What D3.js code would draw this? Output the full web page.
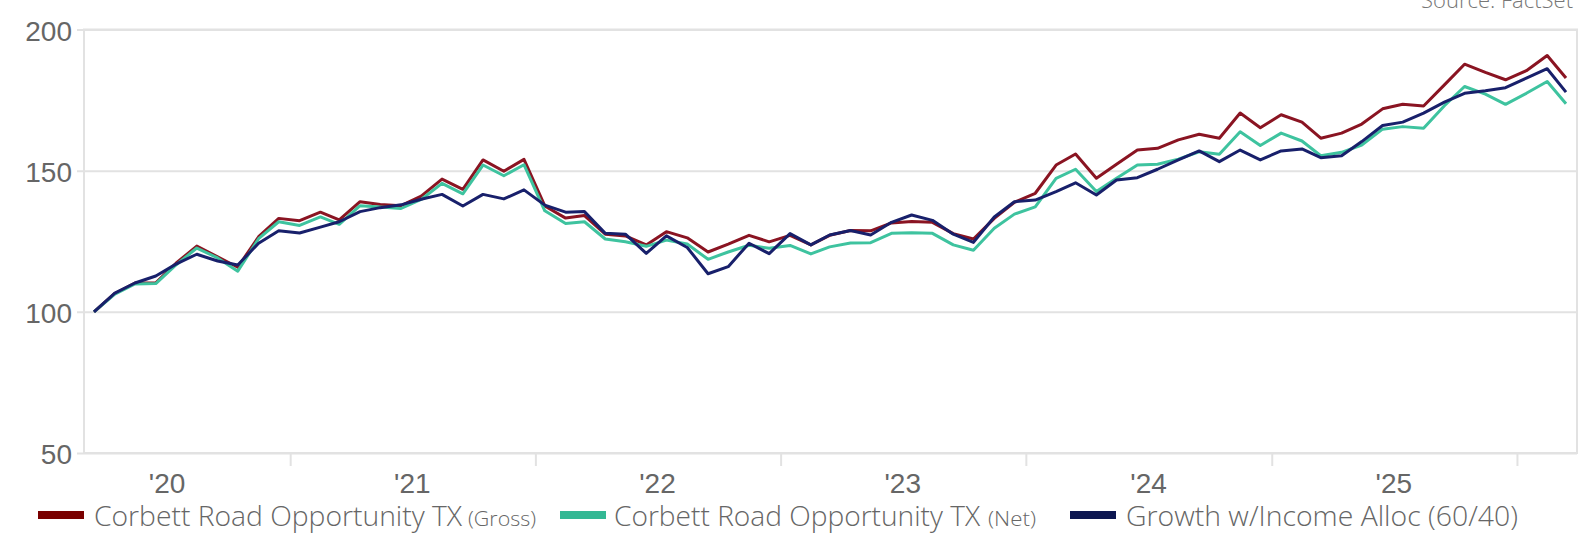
<!DOCTYPE html>
<html><head><meta charset="utf-8">
<script src="https://cdn.jsdelivr.net/npm/d3@7"></script>
<style>html,body{margin:0;padding:0;background:#fff;overflow:hidden}</style>
</head><body>
<svg id="chart" width="1584" height="533"></svg>
<script>
// ---- data (monthly, first point March 2020) ----
const firstYear = 2020, firstMonthIndex = 2;
const seriesNames = ["Corbett Road Opportunity TX (Gross)", "Corbett Road Opportunity TX (Net)", "Growth w/Income Alloc (60/40)"];
const gross = [100,106.5,110.2,110.3,117.2,123.3,119.5,115.8,126.6,133.1,132.3,135.3,132.6,139.0,138.0,137.6,141.0,147.0,143.4,153.8,149.8,154.0,137.5,133.2,134.1,127.5,126.9,123.7,128.4,126.2,121.2,124.0,127.1,124.8,127.1,123.7,127.1,128.8,128.7,131.5,132.0,131.7,127.7,125.8,133.1,138.8,142.0,152.0,155.9,147.3,152.3,157.3,157.9,160.9,162.9,161.5,170.4,165.2,169.8,167.2,161.5,163.3,166.5,171.9,173.5,172.9,180.4,187.7,184.8,182.2,185.4,190.8,182.8];
const net = [100,106.3,109.9,110.0,116.6,122.6,119.1,114.4,125.9,131.9,130.6,133.6,131.0,137.6,137.1,136.6,139.8,145.5,141.8,152.0,148.2,152.1,135.8,131.3,131.9,125.8,124.8,123.2,125.4,124.0,118.6,121.2,123.6,122.5,123.5,120.5,123.0,124.4,124.5,127.8,128.0,127.8,123.7,121.8,129.6,134.6,137.2,147.3,150.5,142.6,147.3,152.0,152.3,154.1,156.7,155.8,163.8,158.9,163.3,160.5,155.3,156.5,159.1,164.7,165.6,165.0,173.0,179.8,177.1,173.5,177.4,181.6,173.7];
const blended = [100,106.6,110.2,112.7,116.9,120.4,118.0,116.6,124.3,128.7,127.9,130.0,131.9,135.5,136.9,137.9,139.9,141.6,137.5,141.6,140.0,143.2,137.8,135.3,135.5,127.8,127.5,120.7,126.9,122.8,113.5,116.0,124.3,120.6,127.7,123.7,127.2,128.8,127.2,131.7,134.3,132.4,127.5,124.6,133.6,139.0,139.6,142.6,145.7,141.4,146.7,147.5,150.5,153.8,157.0,153.2,157.3,153.8,157.0,157.7,154.6,155.3,160.3,166.0,167.2,170.4,174.3,177.4,178.3,179.4,182.8,186.1,177.8];
const yTicks = [50, 100, 150, 200];
const yearLabels = ["'20", "'21", "'22", "'23", "'24", "'25"];
const legendMain = ["Corbett Road Opportunity TX", "Corbett Road Opportunity TX", "Growth w/Income Alloc (60/40)"];
const legendSub = ["(Gross)", "(Net)", ""];
const sourceText = "Source: FactSet";

// ---- styles ----
const lineColors = ["#8a1422", "#3ec39f", "#18206b"];
const swatchColors = ["#7a0000", "#33b894", "#0c1650"];
const gridColor = "#e2e2e2";

const svg = d3.select("#chart");
const plot = {left: 84, right: 1577, top: 29.5, bottom: 453};

const dates = gross.map((d, i) => new Date(firstYear, firstMonthIndex + i, 15));
const x = d3.scaleTime().domain([dates[0], dates[dates.length - 1]]).range([94, 1566]);
const y = d3.scaleLinear().domain([50, 200]).range([plot.bottom, plot.top]);

// gridlines (with small outer tick on the left)
svg.append("g")
  .attr("transform", `translate(${plot.right},0)`)
  .call(d3.axisLeft(y).tickValues(yTicks).tickSize(plot.right - 77).tickFormat(""))
  .call(g => g.select(".domain").remove())
  .call(g => g.selectAll("line").attr("stroke", gridColor).attr("stroke-width", 2));

// frame
svg.append("rect")
  .attr("x", plot.left).attr("y", plot.top)
  .attr("width", plot.right - plot.left).attr("height", plot.bottom - plot.top)
  .attr("fill", "none").attr("stroke", gridColor).attr("stroke-width", 2);

// y labels
svg.append("g")
  .attr("transform", `translate(${plot.left},0)`)
  .call(d3.axisLeft(y).tickValues(yTicks).tickSize(0).tickPadding(12))
  .call(g => g.select(".domain").remove())
  .call(g => g.selectAll("text")
    .attr("font-family", "'Liberation Sans', Arial, sans-serif")
    .attr("font-size", 28).attr("fill", "#666").attr("dy", "0.38em"));

// x ticks at year boundaries
const yearTicks = d3.timeYear.range(new Date(firstYear + 1, 0, 1), new Date(firstYear + 7, 0, 1));
svg.append("g")
  .attr("transform", `translate(0,${plot.bottom})`)
  .call(d3.axisBottom(x).tickValues(yearTicks).tickSize(13).tickFormat(""))
  .call(g => g.select(".domain").remove())
  .call(g => g.selectAll("line").attr("stroke", gridColor).attr("stroke-width", 2));

// x labels at mid-year
const labelDates = yearLabels.map((d, i) => new Date(firstYear + i, 6, 1));
svg.append("g")
  .attr("transform", `translate(0,${plot.bottom})`)
  .call(d3.axisBottom(x).tickValues(labelDates).tickSize(0).tickPadding(20)
    .tickFormat((d, i) => yearLabels[i]))
  .call(g => g.select(".domain").remove())
  .call(g => g.selectAll("text")
    .attr("font-family", "'Liberation Sans', Arial, sans-serif")
    .attr("font-size", 28).attr("fill", "#666"));

// lines
const line = d3.line().x((d, i) => x(dates[i])).y(d => y(d));
const seriesData = [gross, net, blended];
svg.append("g").selectAll("path").data(seriesData).join("path")
  .attr("d", line)
  .attr("fill", "none")
  .attr("stroke", (d, i) => lineColors[i])
  .attr("stroke-width", 3)
  .attr("stroke-linejoin", "round");

// legend
const legendPos = [
  {sx: 38, tx: 94, tw: 368, subx: 468, subw: 68},
  {sx: 560, tx: 614, tw: 366, subx: 988, subw: 48},
  {sx: 1070, tx: 1126, tw: 392, subx: 0, subw: 0}
];
const lg = svg.append("g");
legendMain.forEach((t, i) => {
  const p = legendPos[i];
  lg.append("rect").attr("x", p.sx).attr("y", 511).attr("width", 46).attr("height", 8)
    .attr("fill", swatchColors[i]);
  lg.append("text").attr("x", p.tx).attr("y", 526)
    .attr("font-family", "'Open Sans', sans-serif").attr("font-weight", 300)
    .attr("font-size", 28).attr("fill", "#666")
    .attr("textLength", p.tw).attr("lengthAdjust", "spacingAndGlyphs")
    .text(t);
  if (legendSub[i]) {
    lg.append("text").attr("x", p.subx).attr("y", 526)
      .attr("font-family", "'Open Sans', sans-serif").attr("font-weight", 300)
      .attr("font-size", 20).attr("fill", "#666")
      .attr("textLength", p.subw).attr("lengthAdjust", "spacingAndGlyphs")
      .text(legendSub[i]);
  }
});

// source note (clipped at the top edge)
svg.append("text").attr("x", 1573).attr("y", 8).attr("text-anchor", "end")
  .attr("font-family", "'Open Sans', sans-serif").attr("font-weight", 300)
  .attr("font-size", 22).attr("fill", "#777").text(sourceText);
</script>
</body></html>
